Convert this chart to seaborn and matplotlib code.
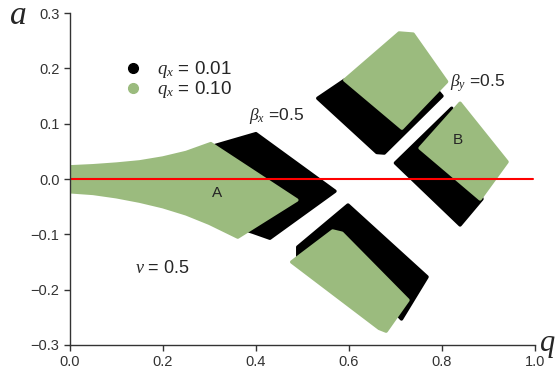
import matplotlib
matplotlib.use("Agg")
import matplotlib.pyplot as plt
import seaborn as sns
from matplotlib.lines import Line2D

# stability regions (q, a)
# black = qx 0.01, green = qx 0.10
green_A_q = [0.0, 0.05, 0.10, 0.15, 0.20, 0.25, 0.303, 0.488, 0.361, 0.30, 0.25, 0.20, 0.15, 0.10, 0.05, 0.0]
green_A_a = [0.022, 0.024, 0.027, 0.031, 0.038, 0.048, 0.064, -0.038, -0.105, -0.080, -0.063, -0.050, -0.040, -0.032, -0.026, -0.023]
black_A_q = [0.31, 0.40, 0.57, 0.43, 0.393, 0.37]
black_A_a = [0.060, 0.082, -0.022, -0.107, -0.096, -0.090]

green_up_q = [0.591, 0.708, 0.738, 0.81, 0.714]
green_up_a = [0.179, 0.264, 0.262, 0.176, 0.092]
black_up_q = [0.533, 0.591, 0.78, 0.80, 0.676, 0.66]
black_up_a = [0.146, 0.179, 0.170, 0.150, 0.047, 0.048]

green_B_q = [0.839, 0.94, 0.882, 0.753]
green_B_a = [0.137, 0.031, -0.036, 0.056]
black_B_q = [0.821, 0.70, 0.839, 0.886]
black_B_a = [0.128, 0.029, -0.083, -0.036]

green_lo_q = [0.477, 0.565, 0.585, 0.727, 0.68, 0.665]
green_lo_a = [-0.150, -0.094, -0.098, -0.219, -0.275, -0.270]
black_lo_q = [0.49, 0.598, 0.768, 0.713, 0.60, 0.49]
black_lo_a = [-0.123, -0.047, -0.177, -0.253, -0.150, -0.145]

line_q = [0.0, 0.995]
line_a = [0.0, 0.0]

green = "#9bbb7e"
black = "#000000"

sns.set_style("ticks")
plt.rcParams['font.family'] = ['Liberation Sans', 'DejaVu Sans']
plt.rcParams['mathtext.fontset'] = 'custom'
plt.rcParams['mathtext.it'] = 'Liberation Serif:italic'
plt.rcParams['mathtext.rm'] = 'Liberation Sans'

fig = plt.figure(figsize=(5.59, 3.85), dpi=100)
ax = fig.add_axes([0.125, 0.104, 0.832, 0.862])

for q, a, c in [(black_A_q, black_A_a, black), (green_A_q, green_A_a, green),
                (black_up_q, black_up_a, black), (green_up_q, green_up_a, green),
                (black_B_q, black_B_a, black), (green_B_q, green_B_a, green),
                (black_lo_q, black_lo_a, black), (green_lo_q, green_lo_a, green)]:
    ax.fill(q, a, color=c, lw=2.5, ec=c, joinstyle='round')

sns.lineplot(x=line_q, y=line_a, color="red", lw=1.5, ax=ax)

ax.set_xlim(0, 1.0)
ax.set_ylim(-0.3, 0.3)
ax.set_xticks([0.0, 0.2, 0.4, 0.6, 0.8, 1.0])
ax.set_yticks([-0.3, -0.2, -0.1, 0.0, 0.1, 0.2, 0.3])
ax.xaxis.set_major_formatter(matplotlib.ticker.FormatStrFormatter('%.1f'))
ax.yaxis.set_major_formatter(matplotlib.ticker.FuncFormatter(lambda v, p: ('%.1f' % v).replace('-', '\u2212')))
ax.tick_params(labelsize=10.5, colors="#333333", length=4, width=1, direction='out')
sns.despine(ax=ax)
for s in ['left', 'bottom']:
    ax.spines[s].set_color("#333333")
    ax.spines[s].set_linewidth(1)

# annotations
ax.text(0.316, -0.025, "A", fontsize=11, ha='center', va='center')
ax.text(0.834, 0.07, "B", fontsize=11, ha='center', va='center')
ax.text(0.385, 0.114, r"$\beta_x$ =0.5", fontsize=12.5, ha='left', va='center')
ax.text(0.818, 0.173, r"$\beta_y$ =0.5", fontsize=12.5, ha='left', va='center')
ax.text(0.14, -0.161, r"$\nu$ = 0.5", fontsize=13, ha='left', va='center')

handles = [Line2D([], [], ls='', marker='o', ms=7, color=black),
           Line2D([], [], ls='', marker='o', ms=7, color=green)]
ax.legend(handles, [r"$q_x$ = 0.01", r"$q_x$ = 0.10"], loc='upper left',
          bbox_to_anchor=(0.07, 0.912), frameon=False, fontsize=13.5,
          handletextpad=0.5, labelspacing=-0.05, handlelength=1.5)

fig.text(0.032, 0.958, "a", fontsize=24, family='Liberation Serif', style='italic', va='center', ha='center')
fig.text(0.98, 0.108, "q", fontsize=22, family='Liberation Serif', style='italic', va='center', ha='center')

fig.savefig("out.png", dpi=100)
